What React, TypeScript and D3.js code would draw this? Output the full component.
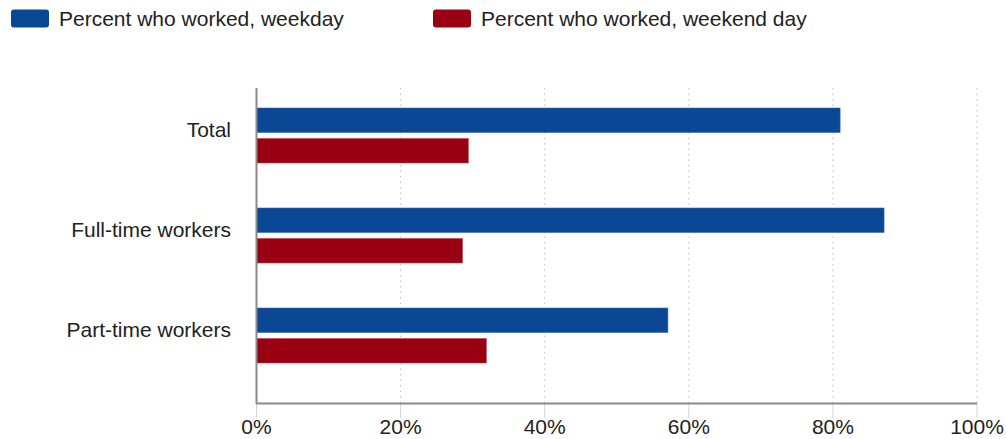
import React from "react";
import * as d3 from "d3";

const categories = ["Total", "Full-time workers", "Part-time workers"];
const weekday = [81.0, 87.1, 57.1];
const weekend = [29.4, 28.6, 31.9];
const seriesNames = ["Percent who worked, weekday", "Percent who worked, weekend day"];
const xTicks = [0, 20, 40, 60, 80, 100];
const colors = ["#0a4795", "#990011"];

export default function App() {
  const W = 1006, H = 439;
  const x = d3.scaleLinear().domain([0, 100]).range([256.5, 977]);
  const y = d3.scaleBand<string>().domain(categories).range([86, 386]);
  const barH = 24.5;
  const font = "'Liberation Sans', Arial, sans-serif";
  const fs = 21;
  const series = [weekday, weekend];
  return (
    <svg width={W} height={H} style={{ position: "absolute", left: 0, top: 0 }} fontFamily={font}>
      {/* legend */}
      {seriesNames.map((n, i) => {
        const lx = i === 0 ? 11 : 433;
        return (
          <g key={n}>
            <rect x={lx} y={9.5} width={38} height={18} rx={3} fill={colors[i]} />
            <text x={lx + 48} y={26} fontSize={fs} fill="#222">{n}</text>
          </g>
        );
      })}
      {/* grid */}
      {xTicks.slice(1).map((t) => (
        <line key={t} x1={x(t)} x2={x(t)} y1={88} y2={403} stroke="#c8c8c8" strokeWidth={1.2} strokeDasharray="1.5,4" />
      ))}
      {/* bars */}
      {categories.map((c, i) => {
        const cy = (y(c) as number) + y.bandwidth() / 2;
        return (
          <g key={c}>
            {series.map((s, j) => (
              <rect
                key={j}
                x={x(0)}
                y={j === 0 ? cy - 28 : cy + 2.5}
                width={x(s[i]) - x(0)}
                height={barH}
                fill={colors[j]}
                stroke={j === 0 ? "#3a6ab0" : "#c04050"}
                strokeWidth={0.6}
              />
            ))}
            <text x={231} y={cy + 1} textAnchor="end" fontSize={fs} fill="#222">{c}</text>
          </g>
        );
      })}
      {/* axes */}
      <line x1={256.5} x2={256.5} y1={88} y2={404} stroke="#8a8a8a" strokeWidth={2} />
      {xTicks.map((t) => (
        <g key={t}>
          <line x1={x(t)} x2={x(t)} y1={404} y2={418} stroke="#ccd6eb" strokeWidth={1} />
          <text x={x(t)} y={434} textAnchor="middle" fontSize={fs} fill="#222">{t}%</text>
        </g>
      ))}
      <line x1={256} x2={977} y1={403.5} y2={403.5} stroke="#8a8a8a" strokeWidth={2} />
    </svg>
  );
}
